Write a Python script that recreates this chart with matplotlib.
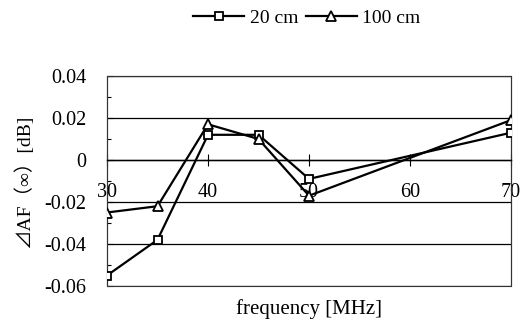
import matplotlib
matplotlib.use("Agg")
import matplotlib.pyplot as plt
from matplotlib.patches import Rectangle
from matplotlib.ticker import MultipleLocator, FixedLocator, FixedFormatter

freq = [30, 35, 40, 45, 50, 70]
af_20cm = [-0.055, -0.038, 0.012, 0.012, -0.009, 0.013]
af_100cm = [-0.025, -0.022, 0.017, 0.010, -0.017, 0.019]
series_labels = ["20 cm", "100 cm"]
x_ticks = [30, 40, 50, 60, 70]
y_ticks = [-0.06, -0.04, -0.02, 0.0, 0.02, 0.04]
y_tick_labels = ["-0.06", "-0.04", "-0.02", "0", "0.02", "0.04"]

serif = ["Liberation Serif", "Noto Sans CJK JP", "DejaVu Sans"]
plt.rcParams["font.family"] = serif

fig = plt.figure(figsize=(5.2, 3.33), dpi=100)
ax = fig.add_axes([107 / 520, 1 - 286 / 333, (511 - 107) / 520, (286 - 76) / 333])

l1, = ax.plot(freq, af_20cm, color="black", lw=1.6, marker="s", ms=5.5,
              mfc="white", mec="black", mew=1.3, label=series_labels[0], zorder=3)
l2, = ax.plot(freq, af_100cm, color="black", lw=1.6, marker="^", ms=6.5,
              mfc="white", mec="black", mew=1.3, label=series_labels[1], zorder=3)

ax.set_xlim(30, 70)
ax.set_ylim(-0.06, 0.04)

ax.yaxis.set_major_locator(FixedLocator(y_ticks))
ax.yaxis.set_major_formatter(FixedFormatter(y_tick_labels))
ax.yaxis.set_minor_locator(MultipleLocator(0.01))
ax.tick_params(axis="y", which="major", direction="in", length=4, width=0.8,
               labelsize=14.5, pad=15)
ax.tick_params(axis="y", which="minor", direction="in", length=3, width=0.8)
ax.grid(axis="y", which="major", color="black", lw=0.9)
ax.set_axisbelow(True)

ax.set_xticks(x_ticks)
ax.set_xticklabels([str(v) for v in x_ticks])
ax.spines["bottom"].set_position(("data", 0))
ax.spines["bottom"].set_linewidth(1.0)
ax.tick_params(axis="x", direction="inout", length=9, width=0.8,
               labelsize=14.5, pad=12)
for s in ["top", "left", "right"]:
    ax.spines[s].set_linewidth(0.8)
    ax.spines[s].set_color("#333333")
ax.add_patch(Rectangle((0, 0), 1, 1, transform=ax.transAxes, fill=False,
                       ec="#333333", lw=0.8, clip_on=False, zorder=1))

ax.set_xlabel("frequency [MHz]", fontsize=15)
ax.xaxis.set_label_coords(0.5, -0.062)
ax.set_ylabel("⊿AF（∞）[dB]", fontsize=14)
ax.yaxis.set_label_coords(-0.183, 0.5)

fig.legend(handles=[l1, l2], loc="center", ncol=2, frameon=False,
           bbox_to_anchor=(307 / 520, 1 - 18 / 333), fontsize=14,
           handlelength=2.6, handletextpad=0.3, columnspacing=0.4,
           borderpad=0.1)

fig.savefig("out.png", dpi=100, facecolor="white")
